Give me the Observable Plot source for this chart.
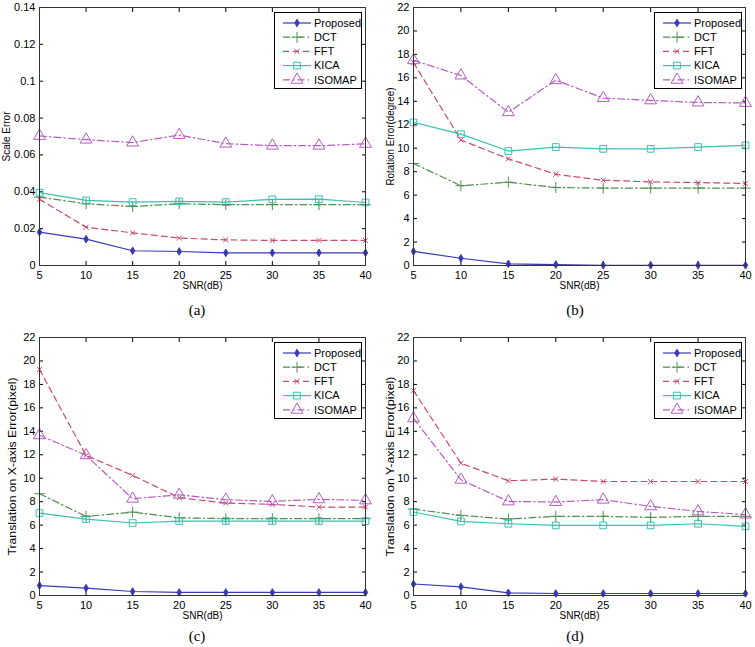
<!DOCTYPE html>
<html><head><meta charset="utf-8">
<script src="https://cdn.jsdelivr.net/npm/d3@7"></script>
<script src="https://cdn.jsdelivr.net/npm/@observablehq/plot@0.6"></script>
<style>
body{margin:0;background:#fff;width:755px;height:647px;position:relative;overflow:hidden;font-family:"Liberation Sans",Arial,sans-serif;}
.panel{position:absolute;}
.cap{position:absolute;font-family:"Liberation Serif","Times New Roman",serif;font-size:15px;transform:translate(-50%,-50%);}
.legend{position:absolute;border:1px solid #000;background:#fff;}
</style></head>
<body>
<script>
const snr = [5,10,15,20,25,30,35,40];
const methods = ["Proposed","DCT","FFT","KICA","ISOMAP"];

// (a) Scale Error
const scaleProposed = [0.0181,0.0143,0.0080,0.0076,0.0069,0.0069,0.0069,0.0069];
const scaleDCT      = [0.0371,0.0335,0.0320,0.0335,0.0330,0.0330,0.0330,0.0330];
const scaleFFT      = [0.0360,0.0208,0.0177,0.0149,0.0139,0.0136,0.0136,0.0136];
const scaleKICA     = [0.0395,0.0353,0.0344,0.0348,0.0344,0.0359,0.0360,0.0342];
const scaleISOMAP   = [0.0703,0.0683,0.0667,0.0708,0.0661,0.0650,0.0650,0.0660];
// (b) Rotation Error
const rotProposed = [1.2,0.62,0.14,0.08,0.02,0.02,0.02,0.02];
const rotDCT      = [8.7,6.8,7.1,6.65,6.6,6.6,6.6,6.6];
const rotFFT      = [17.3,10.7,9.1,7.78,7.27,7.13,7.07,7.0];
const rotKICA     = [12.2,11.2,9.76,10.1,9.95,9.95,10.1,10.24];
const rotISOMAP   = [17.5,16.2,13.07,15.8,14.28,14.08,13.9,13.86];
// (c) Translation on X-axis Error
const txProposed = [0.85,0.63,0.34,0.26,0.26,0.26,0.26,0.26];
const txDCT      = [8.68,6.74,7.11,6.63,6.55,6.55,6.55,6.55];
const txFFT      = [19.27,11.95,10.24,8.34,7.88,7.77,7.54,7.54];
const txKICA     = [7.03,6.52,6.18,6.35,6.35,6.35,6.35,6.35];
const txISOMAP   = [13.66,11.95,8.25,8.59,8.17,8.03,8.2,8.11];
// (d) Translation on Y-axis Error
const tyProposed = [0.98,0.74,0.23,0.17,0.17,0.17,0.17,0.17];
const tyDCT      = [7.37,6.83,6.52,6.75,6.75,6.66,6.75,6.75];
const tyFFT      = [17.47,11.28,9.78,9.92,9.72,9.72,9.72,9.72];
const tyKICA     = [7.12,6.32,6.12,5.98,5.98,5.98,6.12,5.9];
const tyISOMAP   = [15.1,9.87,8.02,7.97,8.17,7.6,7.17,6.9];

const scaleTicks = [0,0.02,0.04,0.06,0.08,0.1,0.12,0.14];
const pixelTicks = [0,2,4,6,8,10,12,14,16,18,20,22];
const captions = ["(a)","(b)","(c)","(d)"];
const xLabel = "SNR(dB)";

const colors  = ["#3a3ab4","#4f8f4f","#c84a6c","#3cbfb2","#b65cc0"];
const dashes  = [null,"7,3,1.5,3","6,4",null,"7,3,1.5,3"];
const symbols = ["diamond","plus","times","square","triangle"];
const radii   = [2.3,3.6,2.4,3.8,4.4];
const fills   = ["#3a3ab4","none","none","none","none"];

const panels = [
  {left:0,   top:0,   ml:39, w:377, ylabel:"Scale Error", ylen:50, yoff:37, domain:[0,0.14], ticks:scaleTicks, series:[scaleProposed,scaleDCT,scaleFFT,scaleKICA,scaleISOMAP], cap:[197,310]},
  {left:375, top:0,   ml:38, w:380, ylabel:"Rotation Error(degree)", ylen:98, yoff:27, domain:[0,22], ticks:pixelTicks, series:[rotProposed,rotDCT,rotFFT,rotKICA,rotISOMAP], cap:[575,310]},
  {left:0,   top:330, ml:39, w:377, ylabel:"Translation on X-axis Error(pixel)", ylen:178, yoff:31, domain:[0,22], ticks:pixelTicks, series:[txProposed,txDCT,txFFT,txKICA,txISOMAP], cap:[197,636]},
  {left:375, top:330, ml:38, w:380, ylabel:"Translation on Y-axis Error(pixel)", ylen:180, yoff:27, domain:[0,22], ticks:pixelTicks, series:[tyProposed,tyDCT,tyFFT,tyKICA,tyISOMAP], cap:[575,636]}
];

const H = 290, MT = 7, MB = 25;
const fmt = d => String(+d.toFixed(2));

panels.forEach((p, pi) => {
  const mr = p.w - (p.ml + (p.left === 0 ? 326 : 332));
  const marks = [
    Plot.axisY({ticks:p.ticks, tickSize:-4, tickPadding:8, tickFormat:fmt, label:p.ylabel, labelAnchor:"center", labelArrow:"none", labelOffset:p.yoff, fontSize:11}),
    Plot.axisY({anchor:"right", ticks:p.ticks, tickSize:-4, tickFormat:()=>"", label:null}),
    Plot.axisX({ticks:snr, tickSize:-4, tickPadding:10, label:xLabel, labelAnchor:"center", labelArrow:"none", labelOffset:23, fontSize:11}),
    Plot.axisX({anchor:"top", ticks:snr, tickSize:-4, tickFormat:()=>"", label:null}),
  ];
  methods.forEach((m, i) => {
    const d = p.series[i].map((v, j) => ({snr:snr[j], v, m}));
    marks.push(Plot.line(d, {x:"snr", y:"v", stroke:colors[i], strokeWidth:1.2, strokeDasharray:dashes[i]}));
    marks.push(Plot.dot(d, {x:"snr", y:"v", symbol:symbols[i], stroke:colors[i], fill:fills[i], r:radii[i], strokeWidth:1}));
  });
  marks.push(Plot.frame({stroke:"#333", strokeWidth:1}));
  const chart = Plot.plot({
    width:p.w, height:H, marginLeft:p.ml, marginRight:mr, marginTop:MT, marginBottom:MB,
    style:{fontFamily:"'Liberation Sans', Arial, sans-serif", fontSize:"11px", color:"#000", background:"#fff", overflow:"visible"},
    x:{domain:[5,40]},
    y:{domain:p.domain},
    marks
  });
  // condense axis titles like the reference
  d3.select(chart).selectAll('g[aria-label="y-axis label"] text')
    .attr("font-size", 10).attr("textLength", p.ylen).attr("lengthAdjust", "spacingAndGlyphs");
  d3.select(chart).selectAll('g[aria-label="x-axis label"] text')
    .attr("font-size", 10).attr("textLength", 40).attr("lengthAdjust", "spacingAndGlyphs");

  const div = document.createElement("div");
  div.className = "panel";
  div.style.left = p.left + "px";
  div.style.top = p.top + "px";
  div.appendChild(chart);
  document.body.appendChild(div);

  // legend
  const frameRight = p.left + p.w - mr;
  const frameTop = p.top + MT;
  const lw = 86, lh = 75;
  const leg = document.createElement("div");
  leg.className = "legend";
  leg.style.left = (frameRight - 5 - lw) + "px";
  leg.style.top = (frameTop + 5) + "px";
  leg.style.width = lw + "px";
  leg.style.height = lh + "px";
  const svg = d3.create("svg").attr("width", lw).attr("height", lh).style("display","block");
  const symMap = {diamond:d3.symbolDiamond, plus:d3.symbolPlus, times:d3.symbolX, square:d3.symbolSquare, triangle:d3.symbolTriangle};
  methods.forEach((m, i) => {
    const y = 10 + i * 14.2;
    svg.append("line").attr("x1",8).attr("x2",36).attr("y1",y).attr("y2",y)
      .attr("stroke",colors[i]).attr("stroke-width",1.2).attr("stroke-dasharray",dashes[i]);
    const area = Math.PI * radii[i] * radii[i];
    svg.append("path").attr("transform",`translate(22,${y})`).attr("d", d3.symbol(symMap[symbols[i]], area)())
      .attr("stroke",colors[i]).attr("fill",fills[i]).attr("stroke-width",1);
    svg.append("text").attr("x",39).attr("y",y).attr("dy","0.35em")
      .attr("font-size",11).attr("font-family","'Liberation Sans', Arial, sans-serif").text(m);
  });
  leg.appendChild(svg.node());
  document.body.appendChild(leg);

  const cap = document.createElement("div");
  cap.className = "cap";
  cap.style.left = p.cap[0] + "px";
  cap.style.top = p.cap[1] + "px";
  cap.textContent = captions[pi];
  document.body.appendChild(cap);
});
</script>
</body></html>
